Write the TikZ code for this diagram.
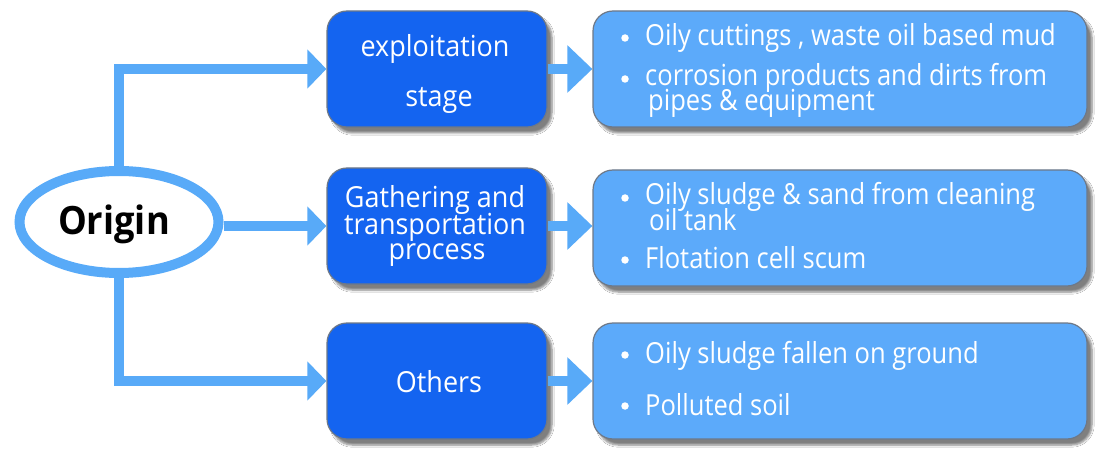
\documentclass[tikz,border=0pt]{standalone}
\usepackage{fontspec}
\setmainfont{Open Sans}[FakeStretch=0.88]
\newfontfamily\stagefont{Open Sans}[FakeStretch=0.93]
\newfontfamily\origfont{Open Sans}[FakeStretch=0.93]
\usetikzlibrary{arrows.meta,shapes.geometric,shadows.blur}
\definecolor{darkbox}{RGB}{20,100,240}
\definecolor{lightbox}{RGB}{92,170,250}
\definecolor{linkblue}{RGB}{88,170,248}
\definecolor{edgegray}{RGB}{110,120,135}
\tikzset{
  x=1pt,y=-1pt,
  boxbase/.style={rounded corners=20pt, draw=edgegray, line width=1.2pt,
     blur shadow={shadow xshift=5pt, shadow yshift=-6pt, shadow blur steps=6, shadow opacity=50}},
  stagebox/.style={boxbase, fill=darkbox, minimum width=220pt, minimum height=116pt},
  stagetext/.style={anchor=base, text=white, inner sep=0pt, font=\stagefont\fontsize{29}{29}\selectfont},
  itembox/.style={boxbase, fill=lightbox, minimum width=494pt, minimum height=116pt},
  itemtext/.style={anchor=base west, text=white, inner sep=0pt, font=\fontsize{29}{29}\selectfont},
  bulletdot/.style={circle, fill=white, inner sep=0pt, minimum size=7.5pt},
  link/.style={draw=linkblue, line width=10pt, -{Triangle[length=19pt,width=38pt]}},
  link2/.style={draw=linkblue, line width=10pt, -{Triangle[length=25pt,width=46pt]}},
}
\begin{document}
\begin{tikzpicture}
\useasboundingbox[fill=white] (0,0) rectangle (1111,457);

% origin ellipse
\node[ellipse, draw=linkblue, line width=10pt, fill=white,
      minimum width=199pt, minimum height=102pt, inner sep=0pt] (origin) at (119,222) {};
\node[anchor=base, inner sep=0pt, font=\origfont\bfseries\fontsize{39}{39}\selectfont] (origtext) at (114,235) {Origin};

% stage boxes
\node[stagebox] (s1) at (437,69) {};
\node[stagebox] (s2) at (437,226) {};
\node[stagebox] (s3) at (437,381) {};

% item boxes
\node[itembox] (r1) at (840,69) {};
\node[itembox] (r2) at (840,228) {};
\node[itembox] (r3) at (840,381) {};

% connectors from origin
\draw[link] (origin.north) -- (origin.north |- s1.west) -- (s1.west);
\draw[link] (origin.east |- s2.west) -- (s2.west);
\draw[link] (origin.south) -- (origin.south |- s3.west) -- (s3.west);

% stage to items
\draw[link2] (s1.east) -- (r1.west);
\draw[link2] (s2.east) -- (s2.east -| r2.west);
\draw[link2] (s3.east) -- (r3.west);

% stage texts
\node[stagetext] (e1) at (435,57) {exploitation};
\node[stagetext] (e2) at (439,107) {stage};
\node[stagetext] (g1) at (435,208) {Gathering and};
\node[stagetext] (g2) at (435,234) {transportation};
\node[stagetext] (g3) at (437,259) {process};
\node[stagetext] (o1) at (439,392) {Others};

% items text
\node[bulletdot] (b11) at (625,38) {};
\node[itemtext] (t11) at (645,46) {Oily cuttings , waste oil based mud};
\node[bulletdot] (b12) at (625,79) {};
\node[itemtext] (t12) at (645,86) {corrosion products and dirts from};
\node[itemtext] (t13) at (648,111) {pipes \& equipment};

\node[bulletdot] (b21) at (625,198) {};
\node[itemtext] (t21) at (645,205) {Oily sludge \& sand from cleaning};
\node[itemtext] (t22) at (649,231) {oil tank};
\node[bulletdot] (b22) at (625,260) {};
\node[itemtext] (t23) at (645,269) {Flotation cell scum};

\node[bulletdot] (b31) at (625,355) {};
\node[itemtext] (t31) at (645,363) {Oily sludge fallen on ground};
\node[bulletdot] (b32) at (625,406) {};
\node[itemtext] (t32) at (645,415) {Polluted soil};
\end{tikzpicture}
\end{document}
